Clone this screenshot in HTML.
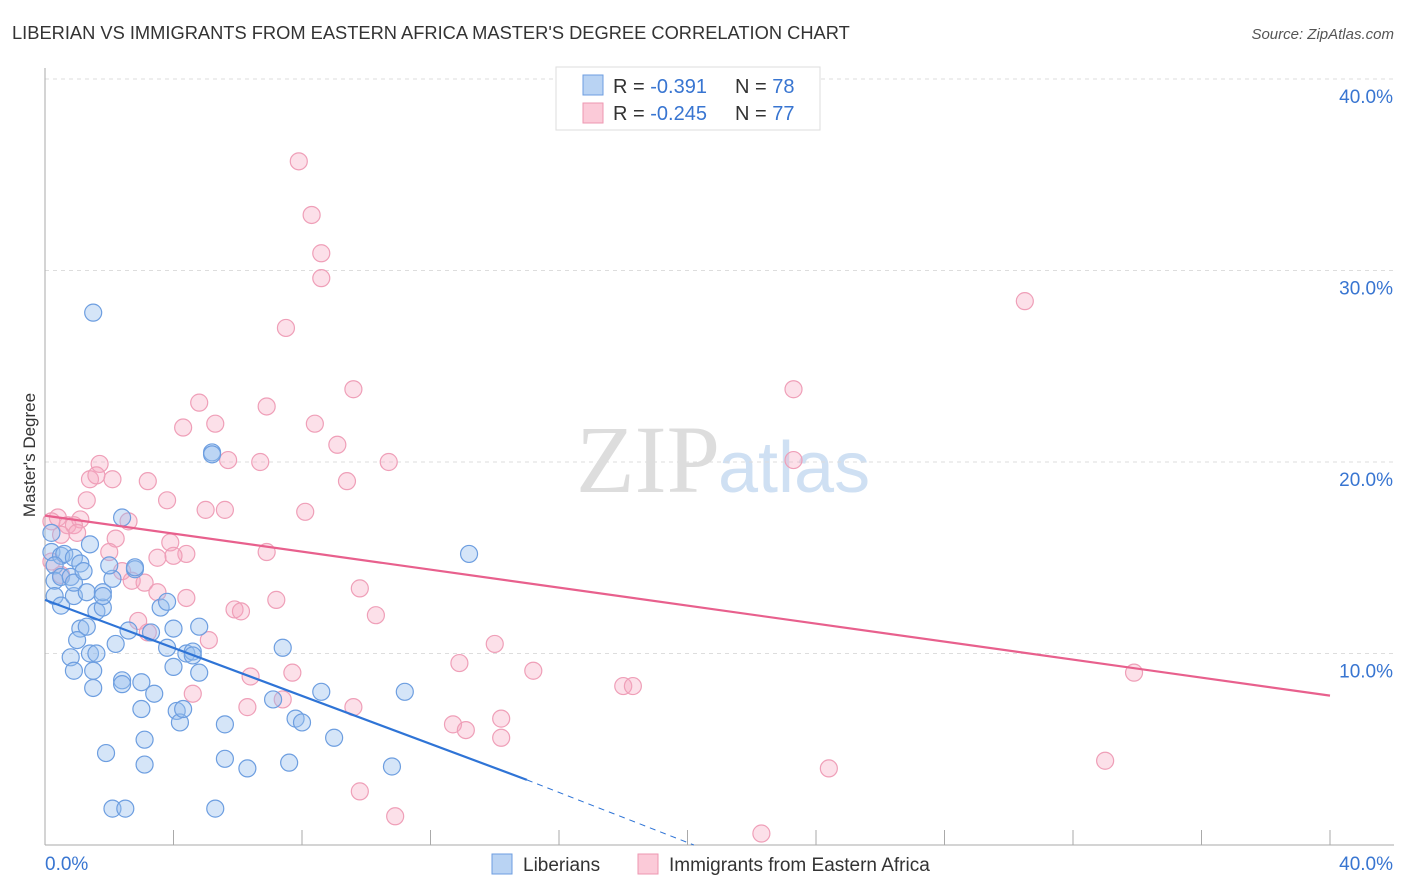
<!DOCTYPE html>
<html><head><meta charset="utf-8">
<style>
body{margin:0;background:#fff;font-family:"Liberation Sans",sans-serif;}
svg{display:block}
</style></head>
<body>
<svg width="1406" height="892" xmlns="http://www.w3.org/2000/svg">
<text x="12" y="39" font-size="18.3" fill="#333">LIBERIAN VS IMMIGRANTS FROM EASTERN AFRICA MASTER'S DEGREE CORRELATION CHART</text>
<text x="1394" y="39" font-size="15" fill="#555" font-style="italic" text-anchor="end">Source: ZipAtlas.com</text>
<text x="720" y="492" font-size="96" fill="#ddd" text-anchor="end" font-family="Liberation Serif,serif">ZIP</text>
<text x="718" y="492" font-size="72" fill="#cfe0f3">atlas</text>
<g id="grid"></g>
<g id="axes"></g>
<g id="pts"></g>
<g id="trend"></g>
<text x="35" y="455" font-size="17" fill="#333" text-anchor="middle" transform="rotate(-90 35 455)">Master's Degree</text>
<g>
<rect x="556" y="67" width="264" height="63" fill="#fff" stroke="#ddd"/>
<rect x="583" y="75" width="20" height="20" fill="#b9d3f3" stroke="#6d9ee0"/>
<rect x="583" y="103" width="20" height="20" fill="#fbcad8" stroke="#ee97b1"/>
<text x="613" y="93" font-size="20" fill="#333">R = <tspan fill="#3875d1">-0.391</tspan><tspan x="735">N = </tspan><tspan fill="#3875d1">78</tspan></text>
<text x="613" y="120" font-size="20" fill="#333">R = <tspan fill="#3875d1">-0.245</tspan><tspan x="735">N = </tspan><tspan fill="#3875d1">77</tspan></text>
</g>
<g>
<rect x="492" y="854" width="20" height="20" fill="#b9d3f3" stroke="#6d9ee0"/>
<text x="523" y="871" font-size="19" fill="#333">Liberians</text>
<rect x="638" y="854" width="20" height="20" fill="#fbcad8" stroke="#ee97b1"/>
<text x="669" y="871" font-size="19" fill="#333">Immigrants from Eastern Africa</text>
</g>
</svg>
<script>
const blueX=[0.2,0.2,0.5,0.6,0.9,0.3,0.3,0.5,0.8,0.3,0.5,0.9,0.9,1.1,1.2,1.4,1.3,1.1,1.3,1.0,0.8,0.9,1.4,1.6,1.5,1.5,1.6,1.8,1.8,1.8,2.1,2.0,2.4,2.2,2.4,2.4,2.6,2.8,3.0,3.0,3.3,3.4,3.6,3.8,3.8,4.0,4.0,4.1,4.2,4.3,4.4,4.6,4.6,4.8,4.8,5.2,5.2,5.6,5.6,6.3,7.1,7.4,7.6,7.8,8.0,8.6,9.0,10.8,11.2,13.2,1.9,2.1,2.5,3.1,3.1,5.3,1.5,2.8];
const blueY=[16.3,15.3,15.1,15.2,15.0,14.6,13.8,14.0,14.0,13.0,12.5,13.0,13.7,14.7,14.3,15.7,13.2,11.3,11.4,10.7,9.8,9.1,10.0,10.0,9.1,8.2,12.2,12.4,13.2,13.0,13.9,14.6,17.1,10.5,8.6,8.4,11.2,14.4,8.5,7.1,11.1,7.9,12.4,12.7,10.3,11.3,9.3,7.0,6.4,7.1,10.0,10.1,9.9,11.4,9.0,20.5,20.4,6.3,4.5,4.0,7.6,10.3,4.3,6.6,6.4,8.0,5.6,4.1,8.0,15.2,4.8,1.9,1.9,5.5,4.2,1.9,27.8,14.5];
const pinkX=[7.9,8.3,8.6,8.6,7.5,9.6,6.9,4.8,8.4,5.3,4.3,9.1,1.7,5.7,6.7,10.7,2.1,1.4,1.6,3.2,9.4,3.8,1.3,5.0,5.6,8.1,0.4,0.7,1.1,0.9,2.6,1.0,0.5,2.2,3.9,4.4,4.0,2.0,3.5,6.9,0.2,0.5,2.4,2.7,3.1,3.5,4.4,7.2,9.8,5.9,6.1,10.3,2.9,3.2,5.1,14.0,6.4,7.7,12.9,15.2,4.6,6.3,7.4,9.6,12.7,13.1,14.2,14.2,18.0,18.3,23.3,23.3,30.5,33.9,33.0,24.4,9.8,10.9,22.3,0.2];
const pinkY=[35.7,32.9,30.9,29.6,27.0,23.8,22.9,23.1,22.0,22.0,21.8,20.9,19.9,20.1,20.0,20.0,19.1,19.1,19.3,19.0,19.0,18.0,18.0,17.5,17.5,17.4,17.1,16.7,17.0,16.7,16.9,16.3,16.2,16.0,15.8,15.2,15.1,15.3,15.0,15.3,14.8,14.1,14.3,13.8,13.7,13.2,12.9,12.8,13.4,12.3,12.2,12.0,11.7,11.1,10.7,10.5,8.8,9.0,9.5,9.1,7.9,7.2,7.6,7.2,6.3,6.0,6.6,5.6,8.3,8.3,23.8,20.1,28.4,9.0,4.4,4.0,2.8,1.5,0.6,16.9];
const blueTrend=[12.8,3.4];const blueTrendX=[0,15];const blueDashEnd=20.2;
const pinkTrend=[17.2,7.8];const pinkTrendX=[0,40];
const yTicks=[10,20,30,40];const xTicks=[0,4,8,12,16,20,24,28,32,36,40];
const NS='http://www.w3.org/2000/svg';
const sx=v=>45+v*32.125, sy=v=>845-v*19.15;
function mk(p,t,a){const e=document.createElementNS(NS,t);for(const k in a)e.setAttribute(k,a[k]);document.getElementById(p).appendChild(e);return e;}
yTicks.forEach(t=>{
 const l=mk('grid','line',{x1:45,x2:1394,y1:sy(t),y2:sy(t),stroke:'#ddd','stroke-dasharray':'4,4'});
 
 
 const tx=mk('grid','text',{x:1393,y:sy(t)+24,'font-size':19,fill:'#3875d1','text-anchor':'end'});
 tx.textContent=t.toFixed(1)+'%';
 
 
});
mk('axes','line',{x1:45,x2:45,y1:68,y2:845,stroke:'#aaa'});
mk('axes','line',{x1:45,x2:1394,y1:845,y2:845,stroke:'#aaa'});
xTicks.forEach(t=>{const l=mk('axes','line',{x1:sx(t),x2:sx(t),y1:830,y2:845,stroke:'#aaa'});
 
 });
let a=mk('axes','text',{x:45,y:870,'font-size':19,fill:'#3875d1'});a.textContent='0.0%';


a=mk('axes','text',{x:1393,y:870,'font-size':19,fill:'#3875d1','text-anchor':'end'});a.textContent='40.0%';


pinkX.forEach((x,i)=>{const c=mk('pts','circle',{cx:sx(x),cy:sy(pinkY[i]),r:8.5,fill:'rgba(246,167,192,0.35)',stroke:'#ef9fb8','stroke-width':1.2});
 
 });
blueX.forEach((x,i)=>{const c=mk('pts','circle',{cx:sx(x),cy:sy(blueY[i]),r:8.5,fill:'rgba(150,190,238,0.4)',stroke:'#6d9ee0','stroke-width':1.2});
 
 });
let t=mk('trend','line',{x1:sx(pinkTrendX[0]),y1:sy(pinkTrend[0]),x2:sx(pinkTrendX[1]),y2:sy(pinkTrend[1]),stroke:'#e8608d','stroke-width':2.2});


t=mk('trend','line',{x1:sx(blueTrendX[0]),y1:sy(blueTrend[0]),x2:sx(blueTrendX[1]),y2:sy(blueTrend[1]),stroke:'#2f74d6','stroke-width':2.2});


t=mk('trend','line',{x1:sx(blueTrendX[1]),y1:sy(blueTrend[1]),x2:sx(blueDashEnd),y2:sy(0),stroke:'#2f74d6','stroke-width':1,'stroke-dasharray':'6,5'});


</script>
</body></html>
